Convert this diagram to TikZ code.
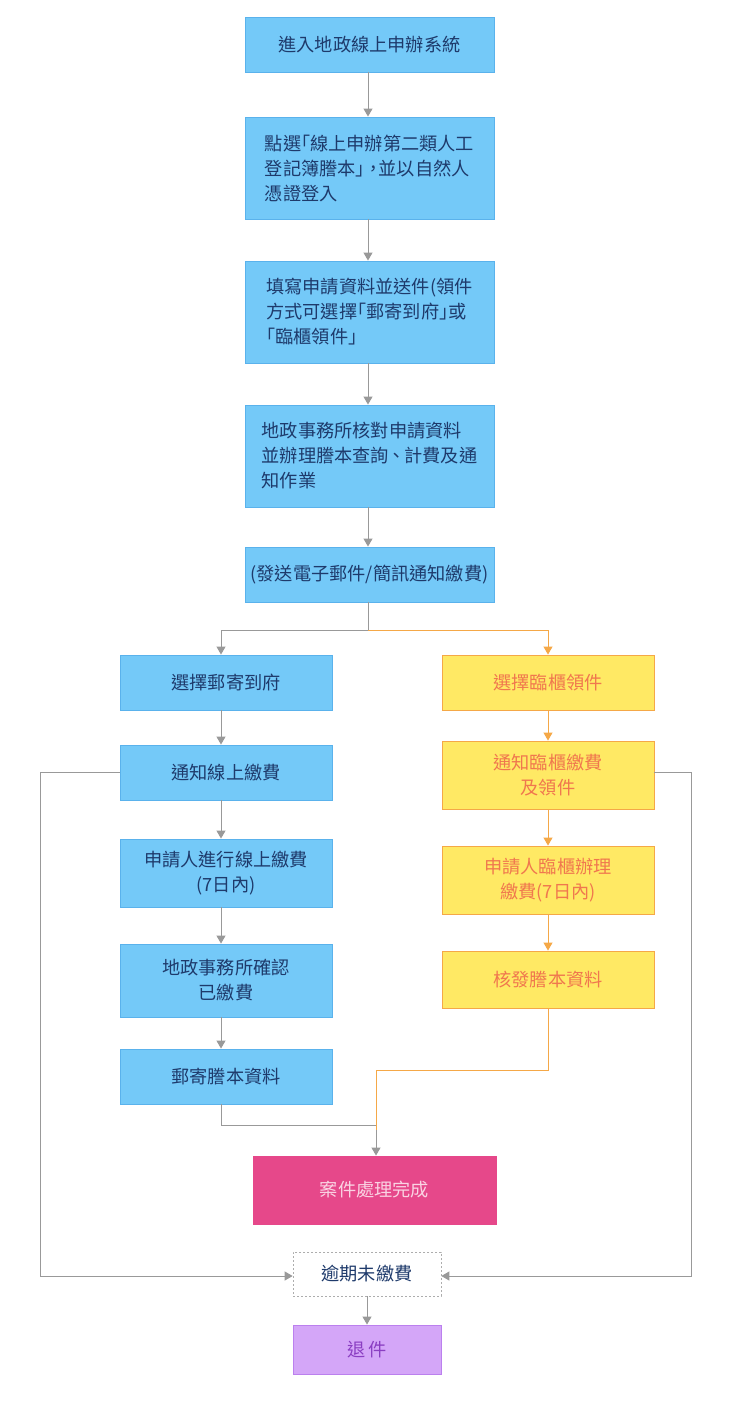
\documentclass[tikz,border=0pt]{standalone}
\usepackage{fontspec}
\setmainfont{Noto Sans CJK TC}
\usetikzlibrary{arrows.meta,calc}
\definecolor{bfill}{HTML}{74C9F8}
\definecolor{bdraw}{HTML}{5AB2EC}
\definecolor{btext}{HTML}{1E3A6B}
\definecolor{yfill}{HTML}{FFE964}
\definecolor{ydraw}{HTML}{F5A847}
\definecolor{ytext}{HTML}{F0774E}
\definecolor{pfill}{HTML}{E6488A}
\definecolor{ptext}{HTML}{FAD3E3}
\definecolor{vfill}{HTML}{D4A6F8}
\definecolor{vdraw}{HTML}{BB80EE}
\definecolor{vtext}{HTML}{8A3EC2}
\definecolor{gline}{HTML}{999999}
\tikzset{
  basebox/.style={rectangle, inner sep=0pt, line width=0.9pt, font=\fontsize{18.2}{25}\selectfont, align=center},
  bluebox/.style={basebox, fill=bfill, draw=bdraw, text=btext},
  yelbox/.style={basebox, fill=yfill, draw=ydraw, text=ytext},
  pinkbox/.style={basebox, fill=pfill, draw=pfill, text=ptext},
  violetbox/.style={basebox, fill=vfill, draw=vdraw, text=vtext},
  dashbox/.style={basebox, fill=white, draw=gline!80, dashed, dash pattern=on 2pt off 2pt, line width=0.7pt, text=btext},
  garrow/.style={draw=gline, line width=1pt, -{Triangle[width=9pt,length=8pt]}},
  gline/.style={draw=gline, line width=1pt},
  oarrow/.style={draw=ydraw, line width=1pt, -{Triangle[width=9pt,length=8pt]}},
  oline/.style={draw=ydraw, line width=1pt},
}
\begin{document}
\begin{tikzpicture}[x=1pt,y=-1pt]
\useasboundingbox (0,0) rectangle (740,1413);
\fill[white] (0,0) rectangle (740,1413);
% top column
\node[bluebox, minimum width=249pt, minimum height=55pt] (n1) at (369.5,44.5) {進入地政線上申辦系統};
\node[bluebox, minimum width=249pt, minimum height=102pt, align=left] (n2) at (369.5,168) {點選｢線上申辦第二類人工\\登記簿謄本｣，\kern-0.25em並以自然人\\憑證登入};
\node[bluebox, minimum width=249pt, minimum height=102pt, align=left] (n3) at (369.5,312) {填寫申請資料並送件(領件\\方式可選擇｢郵寄到府｣或\\｢臨櫃領件｣};
\node[bluebox, minimum width=249pt, minimum height=102pt, align=left] (n4) at (369.5,456) {地政事務所核對申請資料\\並辦理謄本查詢\kern-0.1em、\kern-0.05em計費及通\\知作業};
\node[bluebox, minimum width=249pt, minimum height=55pt] (n5) at (369.5,574.5) {(發送電子郵件/簡訊通知繳費)};
% left column
\node[bluebox, minimum width=212pt, minimum height=55pt] (l1) at (226,682.5) {選擇郵寄到府};
\node[bluebox, minimum width=212pt, minimum height=55pt] (l2) at (226,772.5) {通知線上繳費};
\node[bluebox, minimum width=212pt, minimum height=68pt] (l3) at (226,873) {申請人進行線上繳費\\(7日內)};
\node[bluebox, minimum width=212pt, minimum height=73pt] (l4) at (226,980.5) {地政事務所確認\\已繳費};
\node[bluebox, minimum width=212pt, minimum height=55pt] (l5) at (226,1076.5) {郵寄謄本資料};
% right column
\node[yelbox, minimum width=212pt, minimum height=55pt] (r1) at (548,682.5) {選擇臨櫃領件};
\node[yelbox, minimum width=212pt, minimum height=68pt] (r2) at (548,775) {通知臨櫃繳費\\及領件};
\node[yelbox, minimum width=212pt, minimum height=68pt] (r3) at (548,880) {申請人臨櫃辦理\\繳費(7日內)};
\node[yelbox, minimum width=212pt, minimum height=57pt] (r4) at (548,979.5) {核發謄本資料};
% bottom
\node[pinkbox, minimum width=243pt, minimum height=68pt] (done) at (374.5,1190) {案件處理完成};
\node[dashbox, minimum width=148pt, minimum height=44pt] (late) at (367,1274) {逾期未繳費};
\node[violetbox, minimum width=148pt, minimum height=49pt] (ret) at (367,1349.5) {退\,件};
% helper coordinates
\coordinate (lx) at (221,0);
\coordinate (split) at (368,630);
\coordinate (mx) at (376,0);
\coordinate (farL) at (40,0);
\coordinate (farR) at (691,0);
% top arrows
\draw[garrow] (n1.south -| split) -- (n2.north -| split);
\draw[garrow] (n2.south -| split) -- (n3.north -| split);
\draw[garrow] (n3.south -| split) -- (n4.north -| split);
\draw[garrow] (n4.south -| split) -- (n5.north -| split);
% split
\draw[gline] (n5.south -| split) -- (split);
\draw[garrow] (split) -| (l1.north -| lx);
\draw[oarrow] (split) -| (r1.north);
% left arrows
\draw[garrow] (l1.south -| lx) -- (l2.north -| lx);
\draw[garrow] (l2.south -| lx) -- (l3.north -| lx);
\draw[garrow] (l3.south -| lx) -- (l4.north -| lx);
\draw[garrow] (l4.south -| lx) -- (l5.north -| lx);
% right arrows
\draw[oarrow] (r1.south) -- (r2.north);
\draw[oarrow] (r2.south) -- (r3.north);
\draw[oarrow] (r3.south) -- (r4.north);
% merges
\draw[garrow] (l5.south -| lx) -- ++(0,21) -| (done.north -| mx);
\draw[oline] (r4.south) -- ++(0,62) -| ($(done.north -| mx)+(0,-26)$);
% loops
\draw[garrow] (l2.west) -- (l2.west -| farL) |- ($(late.west)+(0,2)$);
\draw[garrow] (r2.east |- l2.west) -- (l2.west -| farR) |- ($(late.east)+(0,2)$);
\draw[garrow] (late.south) -- (ret.north);
\end{tikzpicture}
\end{document}
